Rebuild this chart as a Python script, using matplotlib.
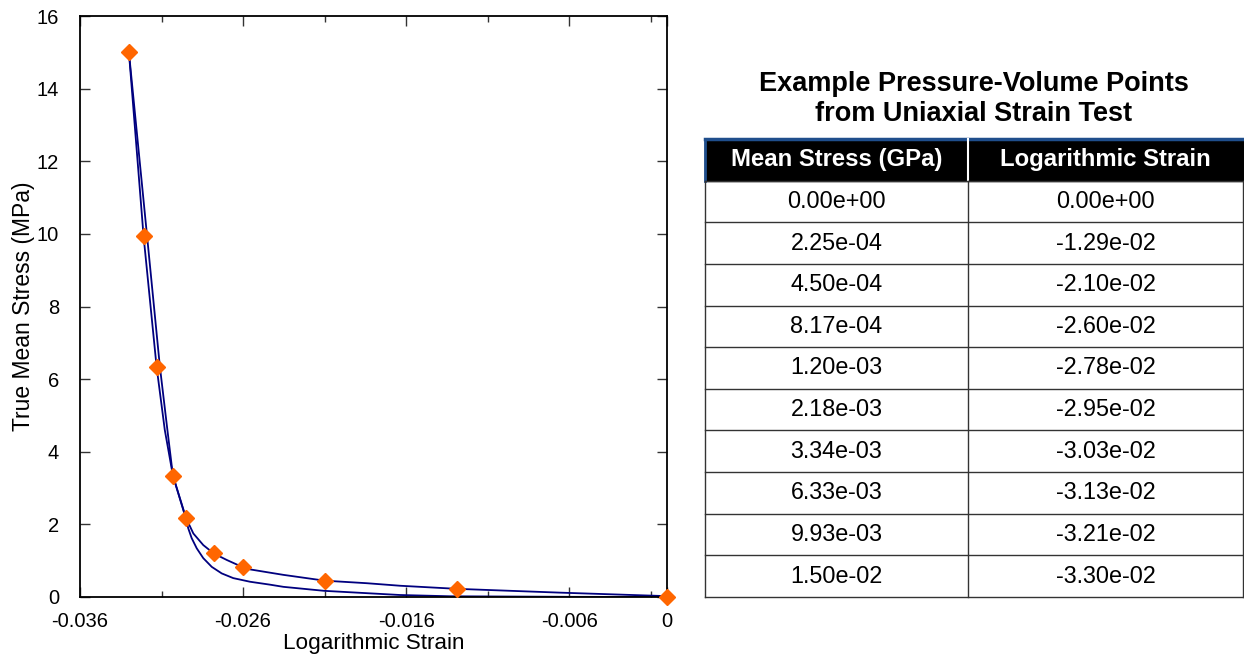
import matplotlib
matplotlib.use('Agg')
import matplotlib.pyplot as plt
from matplotlib.patches import Rectangle

plt.rcParams['font.family'] = ['Liberation Sans', 'DejaVu Sans']

# table values (stress in GPa, strain)
stress_gpa = [0.0, 2.25e-04, 4.50e-04, 8.17e-04, 1.20e-03, 2.18e-03, 3.34e-03, 6.33e-03, 9.93e-03, 1.50e-02]
log_strain = [0.0, -1.29e-02, -2.10e-02, -2.60e-02, -2.78e-02, -2.95e-02, -3.03e-02, -3.13e-02, -3.21e-02, -3.30e-02]
col_labels = ['Mean Stress (GPa)', 'Logarithmic Strain']
table_title = 'Example Pressure-Volume Points\nfrom Uniaxial Strain Test'

# curves (strain, MPa)
upper_strain = [-0.0330, -0.0321, -0.0313, -0.0308, -0.0303, -0.0295, -0.02905, -0.02844, -0.0278,
                -0.0270, -0.0260, -0.02557, -0.02435, -0.02353, -0.0210, -0.01842, -0.01637, -0.0129,
                -0.00656, -0.00043, 0.0]
upper_stress = [15.0, 9.93, 6.33, 4.60, 3.34, 2.18, 1.75, 1.43, 1.20,
                1.02, 0.817, 0.76, 0.67, 0.61, 0.45, 0.38, 0.31, 0.225,
                0.12, 0.03, 0.0]
lower_strain = [-0.0330, -0.0319, -0.0311, -0.03064, -0.0303, -0.02952, -0.02936, -0.02915, -0.02884,
                -0.02844, -0.02792, -0.02731, -0.0266, -0.02557, -0.02435, -0.02353, -0.02103, -0.01637,
                -0.0133, -0.0060, 0.0]
lower_stress = [15.0, 10.0, 6.34, 4.60, 3.34, 2.18, 1.89, 1.62, 1.34,
                1.07, 0.83, 0.65, 0.52, 0.42, 0.34, 0.28, 0.17, 0.055,
                0.02, 0.005, 0.0]

W, H = 1244, 655
fig = plt.figure(figsize=(W / 100, H / 100), dpi=100)

# ---- left plot
ax = fig.add_axes([80 / W, 1 - 597 / H, (667 - 80) / W, (597 - 16) / H])
ax.plot(upper_strain, upper_stress, color='#00007f', lw=1.3)
ax.plot(lower_strain, lower_stress, color='#00007f', lw=1.3)
ax.plot(log_strain, [s * 1000 for s in stress_gpa], ls='none', marker='D', ms=8,
        color='#ff6600', mec='#ff6600', clip_on=False, zorder=5)

ax.set_xlim(-0.036, 0)
ax.set_ylim(0, 16)
ax.set_xticks([-0.036, -0.026, -0.016, -0.006, 0])
ax.set_xticklabels(['-0.036', '-0.026', '-0.016', '-0.006', '0'])
ax.set_xticks([-0.031, -0.021, -0.011, -0.001], minor=True)
ax.set_yticks(range(0, 17, 2))
ax.tick_params(which='both', direction='in', top=True, right=True, labelsize=14.5, color='#333333')
ax.tick_params(which='major', length=7, width=1)
ax.tick_params(which='minor', length=4.5, width=1)
ax.tick_params(axis='x', pad=11)
ax.tick_params(axis='y', pad=15)
for sp in ax.spines.values():
    sp.set_linewidth(1.3)
ax.set_xlabel('Logarithmic Strain', fontsize=16.2, labelpad=1)
ax.set_ylabel('True Mean Stress (MPa)', fontsize=16.5, labelpad=1)

# ---- table
tx0, tx1, ty0, ty1 = 705, 1243, 139, 597
tab = fig.add_axes([tx0 / W, 1 - ty1 / H, (tx1 - tx0) / W, (ty1 - ty0) / H])
nrows = len(stress_gpa) + 1
tab.set_xlim(0, 1)
tab.set_ylim(nrows, 0)
tab.axis('off')
split = (968 - tx0) / (tx1 - tx0)

tab.add_patch(Rectangle((0, 0), 1, 1, color='black', clip_on=False))
tab.plot([0, 1], [0, 0], color='#1f4e8c', lw=2.5, clip_on=False)
tab.plot([0, 0], [0, 1], color='#1f4e8c', lw=2, clip_on=False)
tab.plot([split, split], [0, 1], color='white', lw=1.5, clip_on=False)
for i in range(1, nrows + 1):
    tab.plot([0, 1], [i, i], color='#333333', lw=1, clip_on=False)
for xv in (0, split, 1):
    tab.plot([xv, xv], [1, nrows], color='#333333', lw=1, clip_on=False)

tab.text(split / 2, 0.5, col_labels[0], color='white', fontweight='bold', fontsize=17.2,
         ha='center', va='center')
tab.text((split + 1) / 2, 0.5, col_labels[1], color='white', fontweight='bold', fontsize=17.2,
         ha='center', va='center')
for i, (s, e) in enumerate(zip(stress_gpa, log_strain)):
    tab.text(split / 2, i + 1.5, '{:.2e}'.format(s), fontsize=16.8, ha='center', va='center')
    tab.text((split + 1) / 2, i + 1.5, '{:.2e}'.format(e), fontsize=16.8, ha='center', va='center')

fig.text((tx0 + tx1) / 2 / W, 1 - 99 / H, table_title, fontsize=19.5, fontweight='bold',
         ha='center', va='center', linespacing=1.22)

fig.savefig('out.png', dpi=100)
